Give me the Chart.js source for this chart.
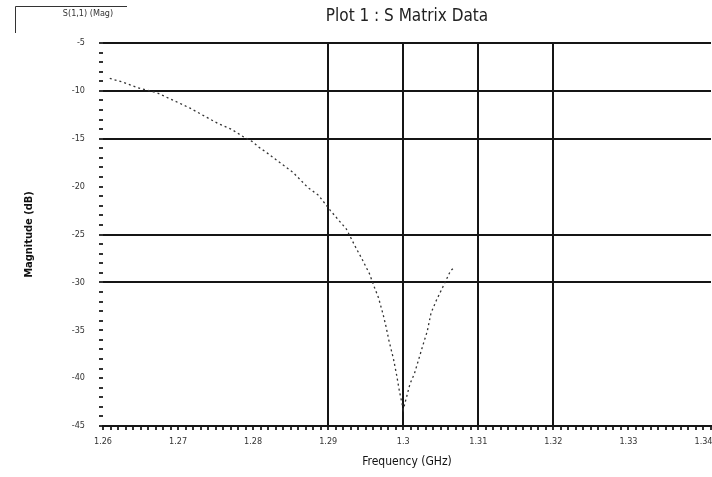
<!DOCTYPE html>
<html lang="en">
<head>
  <meta charset="UTF-8">
  <title>Plot 1 : S Matrix Data</title>
  <script src="https://cdn.jsdelivr.net/npm/chart.js"></script>
  <style>
    body {
      background-color: #fff;
      margin: 0;
      padding: 0;
      overflow: hidden;
    }
    canvas {
      display: block;
    }
  </style>
</head>
<body>
  <canvas id="smatrix" width="712" height="477"></canvas>

  <script>
    // S(1,1) magnitude
    const freqGHz = [
      1.2609, 1.2627, 1.2647, 1.2672, 1.2716, 1.2739, 1.2753, 1.2771, 1.2785, 1.2799,
      1.2808, 1.2819, 1.2829, 1.2841, 1.2853, 1.2873, 1.2887, 1.2903, 1.2915, 1.2924,
      1.2937, 1.2944, 1.2955, 1.2961, 1.2967, 1.2973, 1.2977, 1.2981, 1.2987, 1.2991,
      1.2995, 1.2999, 1.3000, 1.3004, 1.3009, 1.3015, 1.3023, 1.3028, 1.3032, 1.3037,
      1.3044, 1.3052, 1.3063, 1.3067
    ];
    const magDb = [
      -8.7, -9.1, -9.7, -10.2, -11.8, -12.8, -13.4, -14.0, -14.7, -15.3,
      -15.9, -16.5, -17.1, -17.8, -18.5, -20.1, -20.9, -22.5, -23.6, -24.4,
      -26.4, -27.4, -29.1, -30.4, -31.6, -33.3, -34.6, -36.1, -38.0, -39.6,
      -41.4, -42.9, -43.3, -42.1, -40.6, -39.5, -37.4, -36.1, -35.1, -33.2,
      -31.9, -30.6, -28.8, -28.5
    ];
    const seriesName = 'S(1,1) (Mag)';
    const plotTitle = 'Plot 1 : S Matrix Data';

    // axis range and which grid lines show up in the scan
    const xMin = 1.26, xMax = 1.341;
    const yMin = -45, yMax = -5;
    const xGridAt = [1.29, 1.30, 1.31, 1.32];
    const yGridAt = [-5, -10, -15, -25, -30];

    const ink = '#151515';
    const labelFont = { family: "'DejaVu Sans Condensed', 'Liberation Sans Narrow', sans-serif", size: 9 };

    const points = freqGHz.map((f, i) => ({ x: f, y: magDb[i] }));

    const isXGrid = v => xGridAt.some(g => Math.round(g * 1000) === Math.round(v * 1000));
    const isYGrid = v => yGridAt.includes(Math.round(v));

    // title and the little series box in the corner
    const decor = {
      id: 'decor',
      afterDraw(chart) {
        const c = chart.ctx;
        const area = chart.chartArea;
        c.save();
        c.fillStyle = '#222';
        c.font = "17px 'DejaVu Sans Condensed', 'Liberation Sans Narrow', sans-serif";
        c.textAlign = 'center';
        c.textBaseline = 'middle';
        c.fillText(plotTitle, (area.left + area.right) / 2, 17);

        c.strokeStyle = '#333';
        c.lineWidth = 1;
        c.beginPath();
        c.moveTo(15.5, 33);
        c.lineTo(15.5, 6.5);
        c.lineTo(127, 6.5);
        c.stroke();
        c.font = "9px 'DejaVu Sans Condensed', sans-serif";
        c.fillStyle = '#333';
        c.fillText(seriesName, 88, 14);
        c.restore();
      }
    };

    const ctx = document.getElementById('smatrix').getContext('2d');

    new Chart(ctx, {
      type: 'line',
      data: {
        datasets: [{
          label: seriesName,
          data: points,
          borderColor: '#333',
          borderWidth: 1.3,
          borderDash: [2, 3],
          pointRadius: 0,
          tension: 0,
          fill: false
        }]
      },
      options: {
        responsive: false,
        animation: false,
        layout: {
          padding: { top: 43, right: 1, left: 0, bottom: 0 }
        },
        plugins: {
          legend: { display: false },
          tooltip: { enabled: false }
        },
        scales: {
          x: {
            type: 'linear',
            min: xMin,
            max: xMax,
            afterFit: scale => {
              scale.height = 51;
              scale.paddingLeft = 0;
              scale.paddingRight = 0;
            },
            border: { display: true, color: ink, width: 2 },
            grid: {
              color: c => (c.tick && isXGrid(c.tick.value)) ? ink : 'rgba(0,0,0,0)',
              lineWidth: 2,
              tickColor: '#333',
              tickLength: 4
            },
            ticks: {
              stepSize: 0.001,
              autoSkip: false,
              maxRotation: 0,
              padding: 6,
              color: '#333',
              font: labelFont,
              callback: v => Math.round(v * 1000) % 10 === 0 ? String(Math.round(v * 100) / 100) : ''
            },
            title: {
              display: true,
              text: 'Frequency (GHz)',
              color: '#111',
              font: { family: "'DejaVu Sans Condensed', sans-serif", size: 12 },
              padding: { top: 0, bottom: 8 }
            }
          },
          y: {
            min: yMin,
            max: yMax,
            afterFit: scale => { scale.width = 103; },
            border: { display: false },
            grid: {
              color: c => (c.tick && isYGrid(c.tick.value)) ? ink : 'rgba(0,0,0,0)',
              lineWidth: 2,
              tickColor: '#333',
              tickLength: 4
            },
            ticks: {
              stepSize: 1,
              autoSkip: false,
              padding: 14,
              color: '#333',
              font: labelFont,
              callback: v => v % 5 === 0 ? String(v) : ''
            },
            title: {
              display: true,
              text: 'Magnitude (dB)',
              color: '#111',
              font: { family: "'DejaVu Sans Condensed', sans-serif", size: 11, weight: 'bold' },
              padding: { top: 23, bottom: 0 }
            }
          }
        }
      },
      plugins: [decor]
    });
  </script>
</body>
</html>
